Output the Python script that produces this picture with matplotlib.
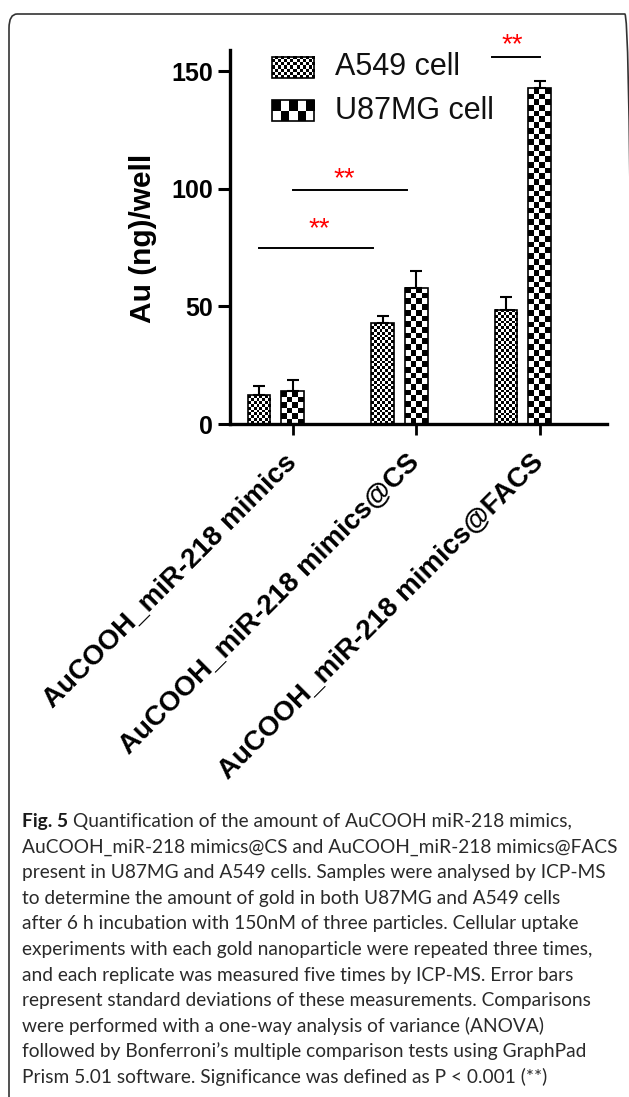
import matplotlib
matplotlib.use('Agg')
import matplotlib.pyplot as plt
import numpy as np
from matplotlib.colors import ListedColormap
from matplotlib.patches import FancyBboxPatch, Rectangle

# Data
groups = ['AuCOOH_miR-218 mimics', 'AuCOOH_miR-218 mimics@CS', 'AuCOOH_miR-218 mimics@FACS']
a549 = [12.3, 42.8, 48.5]
a549_sd = [3.9, 3.3, 5.6]
u87 = [14.0, 58.0, 142.7]
u87_sd = [4.7, 7.0, 3.1]
series_names = ['A549 cell', 'U87MG cell']

# significance brackets: (x start, x end, y) and star positions (x, y)
brackets = [(-0.273, 0.648, 75.0), (0.0, 0.923, 99.5), (1.611, 2.0, 156.0)]
stars = [(0.213, 86.7), (0.42, 108.0), (1.776, 165.0)]

caption = [
    'AuCOOH_miR-218 mimics@CS and AuCOOH_miR-218 mimics@FACS',
    'present in U87MG and A549 cells. Samples were analysed by ICP-MS',
    'to determine the amount of gold in both U87MG and A549 cells',
    'after 6 h incubation with 150nM of three particles. Cellular uptake',
    'experiments with each gold nanoparticle were repeated three times,',
    'and each replicate was measured five times by ICP-MS. Error bars',
    'represent standard deviations of these measurements. Comparisons',
    'were performed with a one-way analysis of variance (ANOVA)',
    'followed by Bonferroni\u2019s multiple comparison tests using GraphPad',
    'Prism 5.01 software. Significance was defined as P < 0.001 (**)',
]

plt.rcParams['font.family'] = ['Liberation Sans', 'DejaVu Sans']

W, H = 629, 1097
fig = plt.figure(figsize=(W / 100, H / 100), dpi=100)

# rounded frame around the figure (right and bottom edges run off the image)
frame = FancyBboxPatch((9 / W, 1 - 1120 / H), 624 / W, 1106 / H,
                       boxstyle='round,pad=0,rounding_size=0.013',
                       transform=fig.transFigure, fill=False,
                       edgecolor='#333333', linewidth=1.2)
fig.patches.append(frame)

ax = fig.add_axes([230 / W, 1 - 424 / H, 377 / W, 374 / H])
renderer = fig.canvas.get_renderer()

x = np.arange(len(groups))
offset = 0.273
width = 0.184
xlim = (-0.508, 2.545)
ylim = (0, 159)
ax.set_xlim(*xlim)
ax.set_ylim(*ylim)

checker_cmap = ListedColormap(['white', 'black'])


def checker_fill(rect, ncols, transform):
    # paint a checkerboard inside a rectangle
    bb = rect.get_window_extent(renderer)
    cell = bb.width / ncols
    nrows = max(1, int(round(bb.height / cell)))
    board = np.add.outer(np.arange(nrows), np.arange(ncols)) % 2
    x0, y0 = rect.get_x(), rect.get_y()
    ax.imshow(board, cmap=checker_cmap, vmin=0, vmax=1, origin='lower',
              extent=(x0, x0 + rect.get_width(), y0, y0 + rect.get_height()),
              interpolation='nearest', aspect='auto', zorder=2,
              transform=transform, clip_on=False)


bars_a = ax.bar(x - offset, a549, width, facecolor='none', edgecolor='black',
                linewidth=1.2, zorder=3)
bars_u = ax.bar(x, u87, width, facecolor='none', edgecolor='black',
                linewidth=1.2, zorder=3)
for b in bars_a:
    checker_fill(b, 8, ax.transData)
for b in bars_u:
    checker_fill(b, 4, ax.transData)

ax.errorbar(x - offset, a549, yerr=[np.zeros(3), a549_sd], fmt='none',
            ecolor='black', elinewidth=1.5, capsize=4.3, capthick=1.5, zorder=4)
ax.errorbar(x, u87, yerr=[np.zeros(3), u87_sd], fmt='none',
            ecolor='black', elinewidth=1.5, capsize=4.3, capthick=1.5, zorder=4)

# significance marks
for x0, x1, y in brackets:
    ax.plot([x0, x1], [y, y], color='black', linewidth=1.4, clip_on=False)
for sx, sy in stars:
    ax.annotate('**', xy=(sx, sy), xytext=(0, -11.5), textcoords='offset points',
                ha='center', va='baseline', color='red', fontsize=20,
                annotation_clip=False)

# manual legend with checkerboard swatches
leg_rows = [(0.925, 0.982, 14), (0.810, 0.866, 5)]
for (y0, y1, ncols), name in zip(leg_rows, series_names):
    sw = Rectangle((0.1106, y0), 0.1122, y1 - y0, transform=ax.transAxes,
                   facecolor='none', edgecolor='black', linewidth=1.2,
                   zorder=3, clip_on=False)
    ax.add_patch(sw)
    checker_fill(sw, ncols, ax.transAxes)
    ax.text(0.2785, (y0 + y1) / 2, name, transform=ax.transAxes,
            fontsize=22, ha='left', va='center', color='#111111')

ax.set_xlim(*xlim)
ax.set_ylim(*ylim)

for s in ['top', 'right']:
    ax.spines[s].set_visible(False)
for s in ['left', 'bottom']:
    ax.spines[s].set_linewidth(2.4)

ax.set_yticks([0, 50, 100, 150])
ax.tick_params(axis='y', direction='out', length=8.6, width=2.2, pad=3.5,
               labelsize=18)
for t in ax.get_yticklabels():
    t.set_fontweight('bold')

ax.set_xticks(x)
ax.set_xticklabels(groups, rotation=45, ha='right', va='center',
                   rotation_mode='anchor', fontsize=20, fontweight='bold')
ax.tick_params(axis='x', direction='out', length=8, width=2, pad=17)

ax.text(-0.231, 0.495, 'Au (ng)/well', transform=ax.transAxes, rotation=90,
        ha='center', va='center', fontsize=21.5, fontweight='bold')

# caption
cap_font = 'Lato'
left = 22 / W
probe = fig.text(left, 0.5, caption[0], fontsize=14, family=cap_font)
fs = 14 * 595 / probe.get_window_extent(renderer).width
probe.remove()

line_gap = 25.6
base0 = 827
fig5 = fig.text(left, 1 - base0 / H, 'Fig. 5', fontsize=fs, family=cap_font,
                fontweight='bold', va='baseline', color='#1a1a1a')
w5 = fig5.get_window_extent(renderer).width
fig.text(left + (w5 + 5) / W, 1 - base0 / H,
         'Quantification of the amount of AuCOOH miR-218 mimics,',
         fontsize=fs, family=cap_font, va='baseline', color='#2a2a2a')
for i, line in enumerate(caption, start=1):
    fig.text(left, 1 - (base0 + i * line_gap) / H, line, fontsize=fs,
             family=cap_font, va='baseline', color='#2a2a2a')

fig.savefig('out.png', dpi=100)
